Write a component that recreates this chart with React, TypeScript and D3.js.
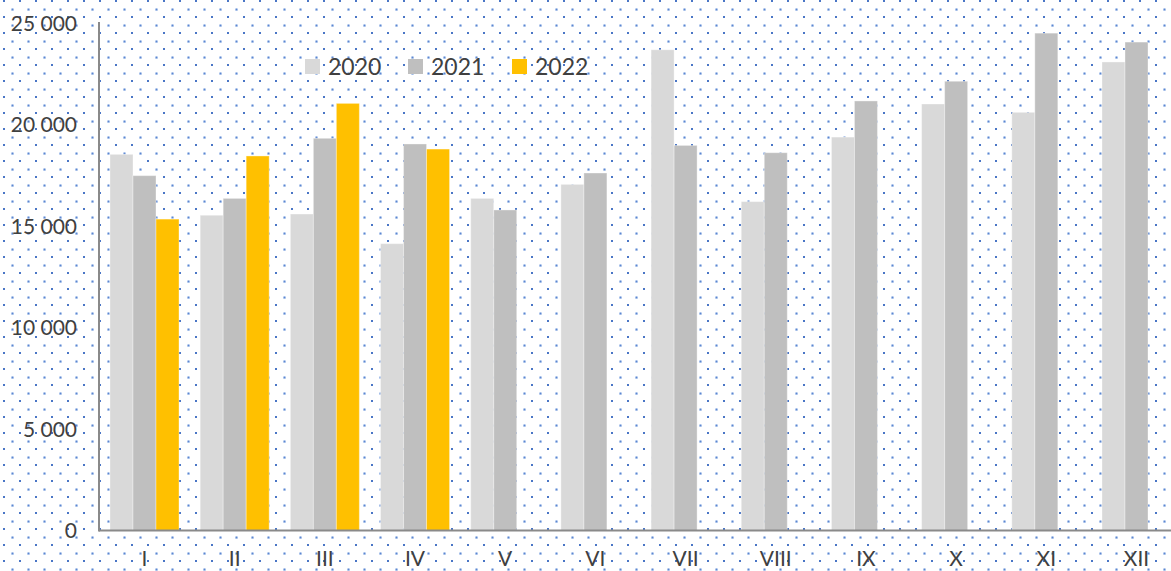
import React from "react";
import * as d3 from "d3";

const months = ["I", "II", "III", "IV", "V", "VI", "VII", "VIII", "IX", "X", "XI", "XII"];
const seriesNames = ["2020", "2021", "2022"];
const values2020 = [18530, 15530, 15590, 14130, 16360, 17050, 23680, 16200, 19380, 21010, 20600, 23080];
const values2021 = [17480, 16360, 19320, 19040, 15790, 17610, 18970, 18610, 21160, 22130, 24500, 24060];
const values2022: (number | null)[] = [15340, 18450, 21040, 18790, null, null, null, null, null, null, null, null];
const colors = ["#d9d9d9", "#bfbfbf", "#ffc000"];
const yTicks = [0, 5000, 10000, 15000, 20000, 25000];

const W = 1171;
const H = 571;
const plotLeft = 99;
const plotRight = 1182;
const plotBottom = 530.5;
const plotTop = 23;

export default function App() {
  const x0 = d3.scaleBand<string>().domain(months).range([plotLeft, plotRight]).paddingInner(0.235).paddingOuter(0.122);
  const x1 = d3.scaleBand<string>().domain(seriesNames).range([0, x0.bandwidth()]);
  const y = d3.scaleLinear().domain([0, 25000]).range([plotBottom, plotTop]);
  const allSeries = [values2020, values2021, values2022];
  const fmt = (v: number) => d3.format(",")(v).replace(/,/g, " ");
  const font = "Lato, 'Open Sans', sans-serif";

  return (
    <svg width={W} height={H} style={{ position: "absolute", left: 0, top: 0 }} fontFamily={font}>
      <defs>
        <pattern id="dots" x={0} y={0} width={16} height={16} patternUnits="userSpaceOnUse">
          <rect x={3} y={0} width={2} height={2} fill="#4a76c6" />
          <circle cx={12.5} cy={9.5} r={1.5} fill="#9ab7e6" />
          <rect x={12} y={9} width={1} height={1} fill="#5d86cf" />
        </pattern>
      </defs>
      <rect x={0} y={0} width={W} height={H} fill="#ffffff" />
      <rect x={0} y={0} width={W} height={H} fill="url(#dots)" />

      {months.map((m, i) => (
        <g key={m} transform={`translate(${x0(m)},0)`}>
          {allSeries.map((s, j) => {
            const v = s[i];
            if (v == null) return null;
            return (
              <rect
                key={j}
                x={x1(seriesNames[j])}
                y={y(v)}
                width={x1.bandwidth()}
                height={y(0) - y(v)}
                fill={colors[j]}
                stroke="#ffffff"
                strokeOpacity={0.35}
                strokeWidth={1}
              />
            );
          })}
        </g>
      ))}

      <line x1={plotLeft} x2={plotLeft} y1={22} y2={plotBottom + 1} stroke="#8a8a8a" strokeWidth={2} />
      <line x1={plotLeft} x2={W} y1={plotBottom} y2={plotBottom} stroke="#8a8a8a" strokeWidth={2} />

      {yTicks.map((t) => (
        <text key={t} x={77} y={y(t) + 7.5} textAnchor="end" fontSize={21} fill="#404040">
          {fmt(t)}
        </text>
      ))}

      {months.map((m) => (
        <text key={m} x={(x0(m) as number) + x0.bandwidth() / 2} y={566} textAnchor="middle" fontSize={21} fill="#404040">
          {m}
        </text>
      ))}

      {seriesNames.map((s, j) => {
        const lx = [305, 408, 512][j];
        return (
          <g key={s}>
            <rect x={lx} y={59} width={15} height={15} fill={colors[j]} />
            <text x={lx + 23} y={75} fontSize={23} fill="#404040">
              {s}
            </text>
          </g>
        );
      })}
    </svg>
  );
}
